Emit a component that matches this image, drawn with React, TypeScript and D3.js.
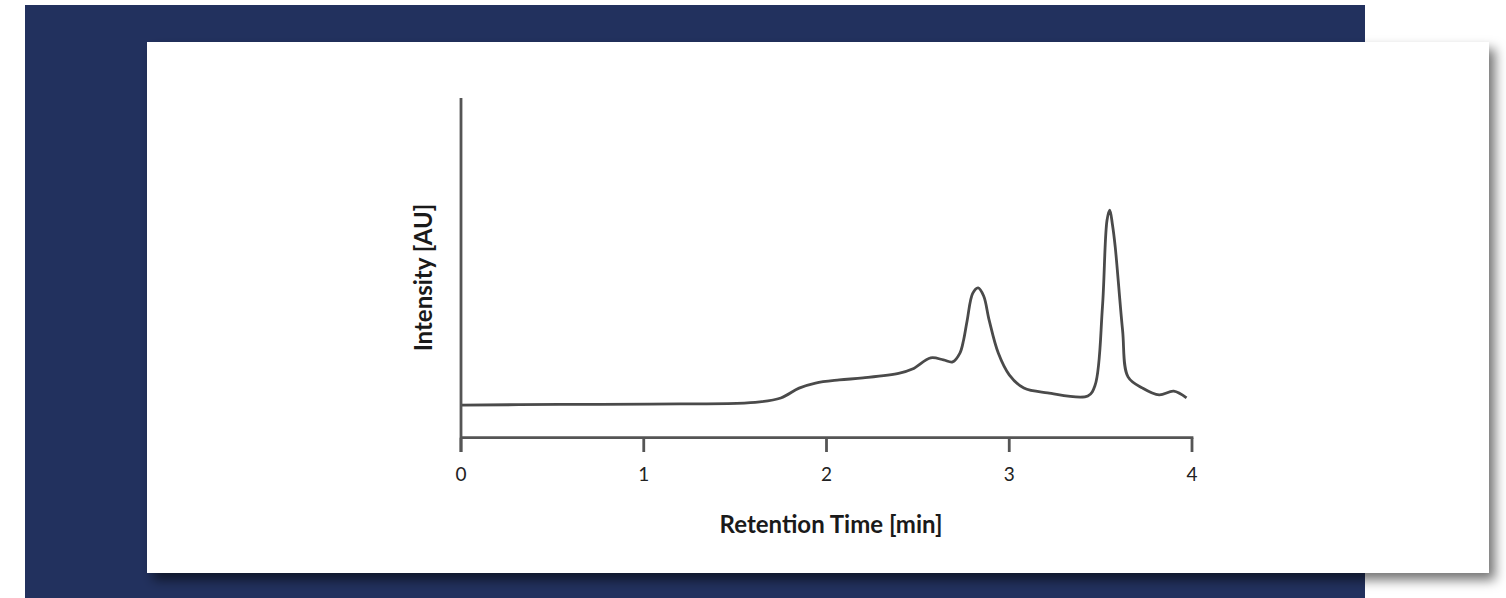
import React from "react";
import * as d3 from "d3";

const retentionTime = [0, 0.54, 1.03, 1.61, 1.75, 1.85, 1.94, 2.07, 2.2, 2.4, 2.47, 2.57, 2.64, 2.69, 2.73, 2.75, 2.77, 2.8, 2.83, 2.86, 2.89, 2.94, 3.0, 3.08, 3.21, 3.43, 3.47, 3.51, 3.535, 3.55, 3.565, 3.58, 3.62, 3.65, 3.73, 3.82, 3.9, 3.97];
const intensity = [9.6, 9.8, 9.9, 10.4, 11.7, 14.6, 16.1, 17.0, 17.6, 19.0, 20.2, 23.5, 22.9, 22.3, 24.9, 28.7, 34.6, 42.5, 44.1, 41.7, 34.6, 24.9, 18.5, 14.6, 13.2, 12.3, 15.5, 38.5, 64.0, 67.0, 62.6, 56.1, 31.7, 17.9, 14.6, 12.6, 13.7, 11.7];
const xTicks = [0, 1, 2, 3, 4];
const xTitle = "Retention Time [min]";
const yTitle = "Intensity [AU]";

export default function App() {
  const W = 1506, H = 598;
  const x = d3.scaleLinear().domain([0, 4]).range([461, 1192]);
  const y = d3.scaleLinear().domain([0, 100]).range([437.7, 98]);
  const pts = retentionTime.map((t, i) => [t, intensity[i]] as [number, number]);
  const line = d3.line<[number, number]>().x(d => x(d[0])).y(d => y(d[1])).curve(d3.curveCatmullRom.alpha(0.5));
  const axisColor = "#555";
  const font = "Lato, 'Open Sans', sans-serif";
  return (
    <svg width={W} height={H} style={{ position: "absolute", left: 0, top: 0, display: "block" }}>
      <defs>
        <filter id="sh" x="-10%" y="-10%" width="130%" height="130%">
          <feDropShadow dx="6" dy="7" stdDeviation="6" floodColor="#000" floodOpacity="0.55" />
        </filter>
      </defs>
      <rect x={0} y={0} width={W} height={H} fill="#ffffff" />
      <rect x={25} y={5} width={1340} height={593} fill="#22315e" />
      <rect x={147} y={42} width={1342} height={531} fill="#ffffff" filter="url(#sh)" />
      <path d={line(pts) || ""} fill="none" stroke="#4a4a4a" strokeWidth={2.8} strokeLinejoin="round" />
      <line x1={x(0)} x2={x(0)} y1={98} y2={452} stroke={axisColor} strokeWidth={2.8} />
      <line x1={x(0)} x2={x(4) + 1.4} y1={y(0)} y2={y(0)} stroke={axisColor} strokeWidth={2.8} />
      {xTicks.map(t => (
        <g key={t}>
          <line x1={x(t)} x2={x(t)} y1={y(0)} y2={452} stroke={axisColor} strokeWidth={2.8} />
          <text x={x(t)} y={481} textAnchor="middle" fontFamily={font} fontSize={19} fill="#222">{t}</text>
        </g>
      ))}
      <text x={831} y={533} textAnchor="middle" fontFamily={font} fontWeight="bold" fontSize={24} fill="#1a1a1a">{xTitle}</text>
      <text transform="translate(432,277.5) rotate(-90)" textAnchor="middle" fontFamily={font} fontWeight="bold" fontSize={24} fill="#1a1a1a">{yTitle}</text>
    </svg>
  );
}
